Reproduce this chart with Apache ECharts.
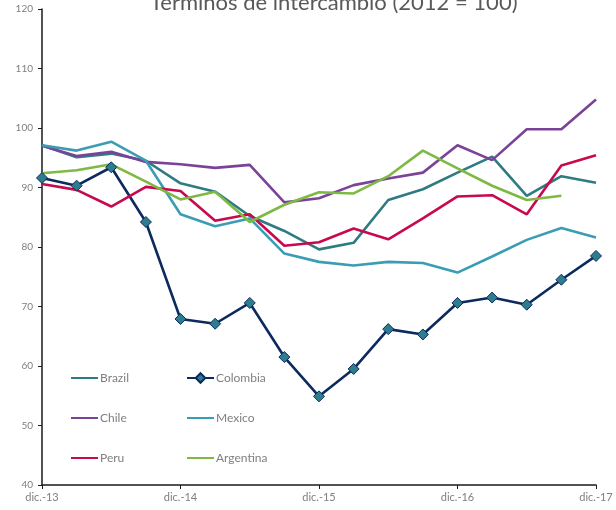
<!DOCTYPE html>
<html>
<head>
<meta charset="utf-8">
<script src="https://cdn.jsdelivr.net/npm/echarts@6/dist/echarts.min.js"></script>
<style>
  html, body { margin: 0; padding: 0; background: #fff; }
  #charts { width: 616px; height: 510px; }
</style>
</head>
<body>
<div id="charts"></div>
<script>
const quarters = ['dic.-13', 'mar.-14', 'jun.-14', 'sep.-14', 'dic.-14', 'mar.-15', 'jun.-15', 'sep.-15', 'dic.-15',
  'mar.-16', 'jun.-16', 'sep.-16', 'dic.-16', 'mar.-17', 'jun.-17', 'sep.-17', 'dic.-17']

const brazil = [97.1, 95.1, 95.7, 94.5, 90.7, 89.3, 85.2, 82.7, 79.6, 80.7, 87.9, 89.7, 92.5, 95.2, 88.6, 91.9, 90.8]
const colombia = [91.6, 90.3, 93.4, 84.2, 67.9, 67.1, 70.6, 61.5, 54.9, 59.5, 66.2, 65.3, 70.6, 71.5, 70.3, 74.5, 78.5]
const chile = [97.0, 95.3, 96.0, 94.3, 93.9, 93.3, 93.8, 87.5, 88.2, 90.4, 91.5, 92.5, 97.1, 94.6, 99.8, 99.8, 104.8]
const mexico = [97.1, 96.2, 97.7, 94.5, 85.5, 83.5, 84.8, 78.9, 77.5, 76.9, 77.5, 77.3, 75.7, 78.4, 81.2, 83.2, 81.6]
const peru = [90.6, 89.6, 86.8, 90.1, 89.4, 84.4, 85.5, 80.2, 80.8, 83.1, 81.3, 84.8, 88.5, 88.7, 85.5, 93.7, 95.4]
const argentina = [92.4, 92.9, 93.9, 91.0, 88.0, 89.3, 84.2, 87.1, 89.2, 89.0, 91.9, 96.2, 93.2, 90.3, 87.9, 88.6, null]

const colors = {
  Brazil: '#2e7b81',
  Colombia: '#0c2a5e',
  Chile: '#7a4397',
  Mexico: '#3a9db3',
  Peru: '#c8084f',
  Argentina: '#7db943'
}

const chart = echarts.init(document.getElementById('charts'))

// plain lines: 'line' symbol keeps the legend icon a simple stroke
const lineSeries = (name, data) => ({
  name: name,
  type: 'line',
  data: data,
  symbol: 'line',
  showSymbol: false,
  connectNulls: false,
  lineStyle: { color: colors[name], width: 2.6 },
  itemStyle: { color: colors[name] },
  animation: false
})

const legendBase = {
  orient: 'vertical',
  top: 372,
  padding: 0,
  itemWidth: 27,
  itemHeight: 12,
  itemGap: 28,
  textStyle: { color: '#7f7f7f', fontSize: 12, fontFamily: 'Lato', padding: [0, 0, 0, -3] }
}

chart.setOption({
  title: {
    text: 'Términos de intercambio (2012 = 100)',
    left: 145,
    top: -13,
    textStyle: { color: '#595959', fontSize: 22, fontWeight: 'normal', fontFamily: 'Lato' }
  },
  legend: [
    Object.assign({}, legendBase, { left: 70, data: ['Brazil', 'Chile', 'Peru'] }),
    Object.assign({}, legendBase, { left: 186, data: ['Colombia', 'Mexico', 'Argentina'] })
  ],
  grid: {
    left: 42,
    right: 20,
    top: 9,
    bottom: 25
  },
  xAxis: {
    type: 'category',
    data: quarters,
    boundaryGap: false,
    axisLine: { lineStyle: { color: '#1a1a1a', width: 1.5 } },
    axisTick: { interval: 3, length: 4, lineStyle: { color: '#1a1a1a' } },
    axisLabel: { interval: 3, color: '#7f7f7f', fontSize: 11, fontFamily: 'Lato', margin: 7 },
    splitLine: { show: false }
  },
  yAxis: {
    type: 'value',
    min: 40,
    max: 120,
    interval: 10,
    axisLine: { show: true, lineStyle: { color: '#1a1a1a', width: 1.5 } },
    axisTick: { show: true, length: 4, lineStyle: { color: '#1a1a1a' } },
    axisLabel: { color: '#7f7f7f', fontSize: 10, fontFamily: 'Lato', margin: 9 },
    splitLine: { show: false }
  },
  series: [
    lineSeries('Brazil', brazil),
    {
      name: 'Colombia',
      type: 'line',
      data: colombia,
      symbol: 'diamond',
      symbolSize: 11,
      lineStyle: { color: colors.Colombia, width: 2.6 },
      itemStyle: { color: '#2d7d8e', borderColor: colors.Colombia, borderWidth: 1 },
      z: 3,
      animation: false
    },
    lineSeries('Chile', chile),
    lineSeries('Mexico', mexico),
    lineSeries('Peru', peru),
    lineSeries('Argentina', argentina)
  ]
})
</script>
</body>
</html>
